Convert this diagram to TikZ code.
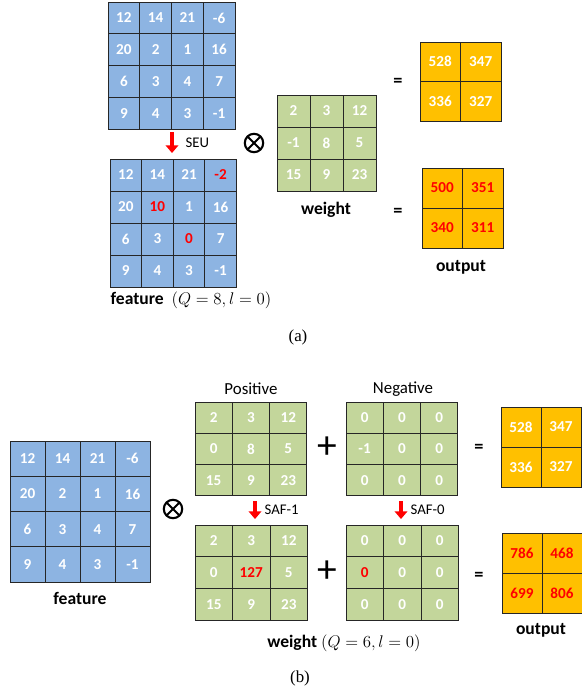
\documentclass[tikz,border=0pt]{standalone}
\usepackage{fontspec}
\setmainfont{Carlito}
\newfontfamily\capfont{Liberation Serif}
\usetikzlibrary{arrows.meta}
\definecolor{featblue}{HTML}{8DB4E2}
\definecolor{wgreen}{HTML}{C3D69B}
\definecolor{outorange}{HTML}{FFC000}
\newcommand\R[1]{\textcolor{red}{#1}}
% #1 name, #2 left, #3 top, #4 cell w, #5 cell h, #6 fill, #7 rows
\newcommand\numgrid[7]{%
  \foreach \row [count=\i] in {#7}{
    \foreach \v [count=\j] in \row{
      \draw[cellbox,fill=#6] ({#2+(\j-1)*#4},{#3+(\i-1)*#5}) rectangle ++(#4,#5);
      \node[num] (#1-\i-\j) at ({#2+(\j-0.5)*#4},{#3+(\i-0.5)*#5}) {\v};
    }}}
\begin{document}
\begin{tikzpicture}[x=0.025cm,y=-0.025cm,
  cellbox/.style={draw=black!85,line width=0.7pt},
  num/.style={font=\fontsize{10.8}{12}\selectfont\bfseries,text=white,inner sep=0pt},
  lab/.style={font=\fontsize{12}{14}\selectfont,inner sep=1pt},
  blab/.style={lab,font=\fontsize{12.5}{14}\selectfont\bfseries},
  small/.style={font=\fontsize{10.5}{12}\selectfont,inner sep=1pt},
  eq/.style={font=\fontsize{13}{14}\selectfont\bfseries,inner sep=0pt},
  xop/.style={circle,draw,line width=1.5pt,minimum size=0.46cm,inner sep=0pt,
    path picture={\draw[line width=1.5pt]
      (path picture bounding box.north west) -- (path picture bounding box.south east)
      (path picture bounding box.north east) -- (path picture bounding box.south west);}},
  plus/.style={font=\fontsize{28}{28}\selectfont,inner sep=0pt},
  sublab/.style={font=\capfont\fontsize{12}{14}\selectfont,inner sep=1pt},
  fault/.style={draw=red,line width=3.2pt,-{Triangle[width=9pt,length=5.5pt]}}]
  \useasboundingbox (0,0) rectangle (581,692);
  % (a) feature before / after SEU
  \numgrid{fa}{108}{2}{31.75}{31.75}{featblue}{{12,14,21,-6},{20,2,1,16},{6,3,4,7},{9,4,3,-1}}
  \numgrid{fb}{110}{159}{31.6}{32}{featblue}{{12,14,21,\R{-2}},{20,\R{10},1,16},{6,3,\R{0},7},{9,4,3,-1}}
  \coordinate (seu-s) at (172,132); \coordinate (seu-e) at (172,153);
  \draw[fault] (seu-s) -- (seu-e);
  \node[small,anchor=west] (seu) at (184,143) {SEU};
  \node[xop] (xa) at (254,143) {};
  \numgrid{wa}{277}{95}{33}{32}{wgreen}{{2,3,12},{-1,8,5},{15,9,23}}
  \node[blab] (wla) at (326,210) {weight};
  \node[eq] (eqa1) at (398,82) {=};
  \node[eq] (eqa2) at (398,212) {=};
  \numgrid{oa}{420}{42}{40.5}{39.5}{outorange}{{528,347},{336,327}}
  \numgrid{ob}{422}{168}{40.5}{40}{outorange}{{\R{500},\R{351}},{\R{340},\R{311}}}
  \node[blab] (ola) at (461,267) {output};
  \node[blab] (fla) at (191,300) {feature\ \ \mdseries$(Q=8,l=0)$};
  \node[sublab] (capa) at (298,337) {(a)};
  % (b) weight split into positive / negative arrays
  \numgrid{fc}{10}{441}{35}{35.25}{featblue}{{12,14,21,-6},{20,2,1,16},{6,3,4,7},{9,4,3,-1}}
  \node[blab] (flb) at (80,598) {feature};
  \node[xop] (xb) at (173,509) {};
  \node[lab] (pos) at (251,389) {Positive};
  \node[lab] (neg) at (403,389) {Negative};
  \numgrid{pa}{195}{402}{37.3}{31.3}{wgreen}{{2,3,12},{0,8,5},{15,9,23}}
  \numgrid{na}{346}{402}{37.3}{31.3}{wgreen}{{0,0,0},{-1,0,0},{0,0,0}}
  \numgrid{pb}{195}{525}{37.5}{31.7}{wgreen}{{2,3,12},{0,\R{127},5},{15,9,23}}
  \numgrid{nb}{346}{525}{37.5}{31.7}{wgreen}{{0,0,0},{\R{0},0,0},{0,0,0}}
  \coordinate (saf1-s) at (255,501); \coordinate (saf1-e) at (255,519);
  \coordinate (saf0-s) at (401,501); \coordinate (saf0-e) at (401,519);
  \draw[fault] (saf1-s) -- (saf1-e);
  \draw[fault] (saf0-s) -- (saf0-e);
  \node[small,anchor=west] (saf1) at (263,510) {SAF-1};
  \node[small,anchor=west] (saf0) at (409,510) {SAF-0};
  \node[plus] (pl1) at (327,448) {+};
  \node[plus] (pl2) at (327,572) {+};
  \node[eq] (eqb1) at (479,448) {=};
  \node[eq] (eqb2) at (479,576) {=};
  \numgrid{oc}{501}{407}{40}{40}{outorange}{{528,347},{336,327}}
  \numgrid{od}{502}{533}{40}{40}{outorange}{{\R{786},\R{468}},{\R{699},\R{806}}}
  \node[blab] (olb) at (541,630) {output};
  \node[blab] (wlb) at (344,643) {weight\ \mdseries$(Q=6,l=0)$};
  \node[sublab] (capb) at (300,678) {(b)};
\end{tikzpicture}
\end{document}
